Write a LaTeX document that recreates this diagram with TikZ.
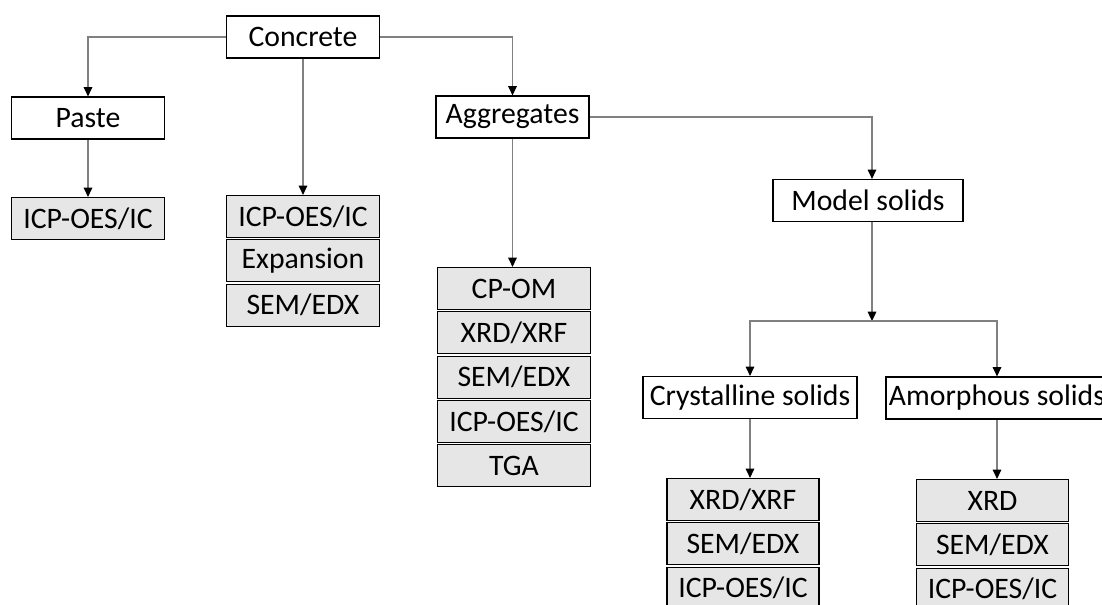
\documentclass[tikz,border=0pt]{standalone}
\usepackage{fontspec}
\setmainfont{Carlito}
\usetikzlibrary{arrows.meta}
\definecolor{cellgray}{HTML}{E7E6E6}
\definecolor{linkgray}{HTML}{808080}
\begin{document}
\begin{tikzpicture}[x=0.75pt,y=-0.75pt,
  box/.style={draw,line width=0.9pt,minimum width=114.75pt,minimum height=31.5pt,inner sep=0pt,font=\fontsize{22.3}{26}\selectfont},
  cell/.style={box,fill=cellgray,minimum width=114pt},
  link/.style={draw=linkgray,line width=0.8pt,-{Triangle[length=7pt,width=6.5pt,color=black]}}]
  \useasboundingbox (0,0) rectangle (1102,604);
  % top levels
  \node[box] (conc) at (303,37) {Concrete};
  \node[box] (paste) at (88,118) {Paste};
  \node[box] (aggr) at (512.5,117) {Aggregates};
  \node[box,minimum width=142.5pt] (model) at (868,200.5) {Model solids};
  \node[box,minimum width=160.5pt] (cryst) at (750,397.5) {Crystalline solids};
  \node[box,minimum width=166.5pt] (amor) at (997,398) {Amorphous solids};
  \coordinate (fork) at (872,321);
  % test columns
  \node[cell,minimum width=114.75pt] (pst1) at (88,218.5) {ICP-OES/IC};
  \foreach \t [count=\i] in {ICP-OES/IC,Expansion,SEM/EDX}
    \node[cell,minimum width=114.75pt] (mid\i) at (303,{172.2+44.3*\i}) {\t};
  \foreach \t [count=\i] in {CP-OM,XRD/XRF,SEM/EDX,ICP-OES/IC,TGA}
    \node[cell,minimum width=115pt] (agg\i) at (514,{244.2+44.3*\i}) {\t};
  \foreach \t [count=\i] in {XRD/XRF,SEM/EDX,ICP-OES/IC}
    \node[cell] (cry\i) at (743,{455.2+44.3*\i}) {\t};
  \foreach \t [count=\i] in {XRD,SEM/EDX,ICP-OES/IC}
    \node[cell] (amo\i) at (992.5,{456.2+44.3*\i}) {\t};
  % connectors
  \draw[link] (conc.west) -| (paste.north);
  \draw[link] (conc.south) -- (conc.south |- mid1.north);
  \draw[link] (conc.east) -| (aggr.north);
  \draw[link] (paste.south) -- (paste.south |- pst1.north);
  \draw[link] (aggr.south) -- (aggr.south |- agg1.north);
  \draw[link] (aggr.east) -| (fork |- model.north);
  \draw[link] (fork |- model.south) -- (fork);
  \draw[link] (fork) -| (cryst.north);
  \draw[link] (fork) -| (amor.north);
  \draw[link] (cryst.south) -- (cryst.south |- cry1.north);
  \draw[link] (amor.south) -- (amor.south |- amo1.north);
\end{tikzpicture}
\end{document}
